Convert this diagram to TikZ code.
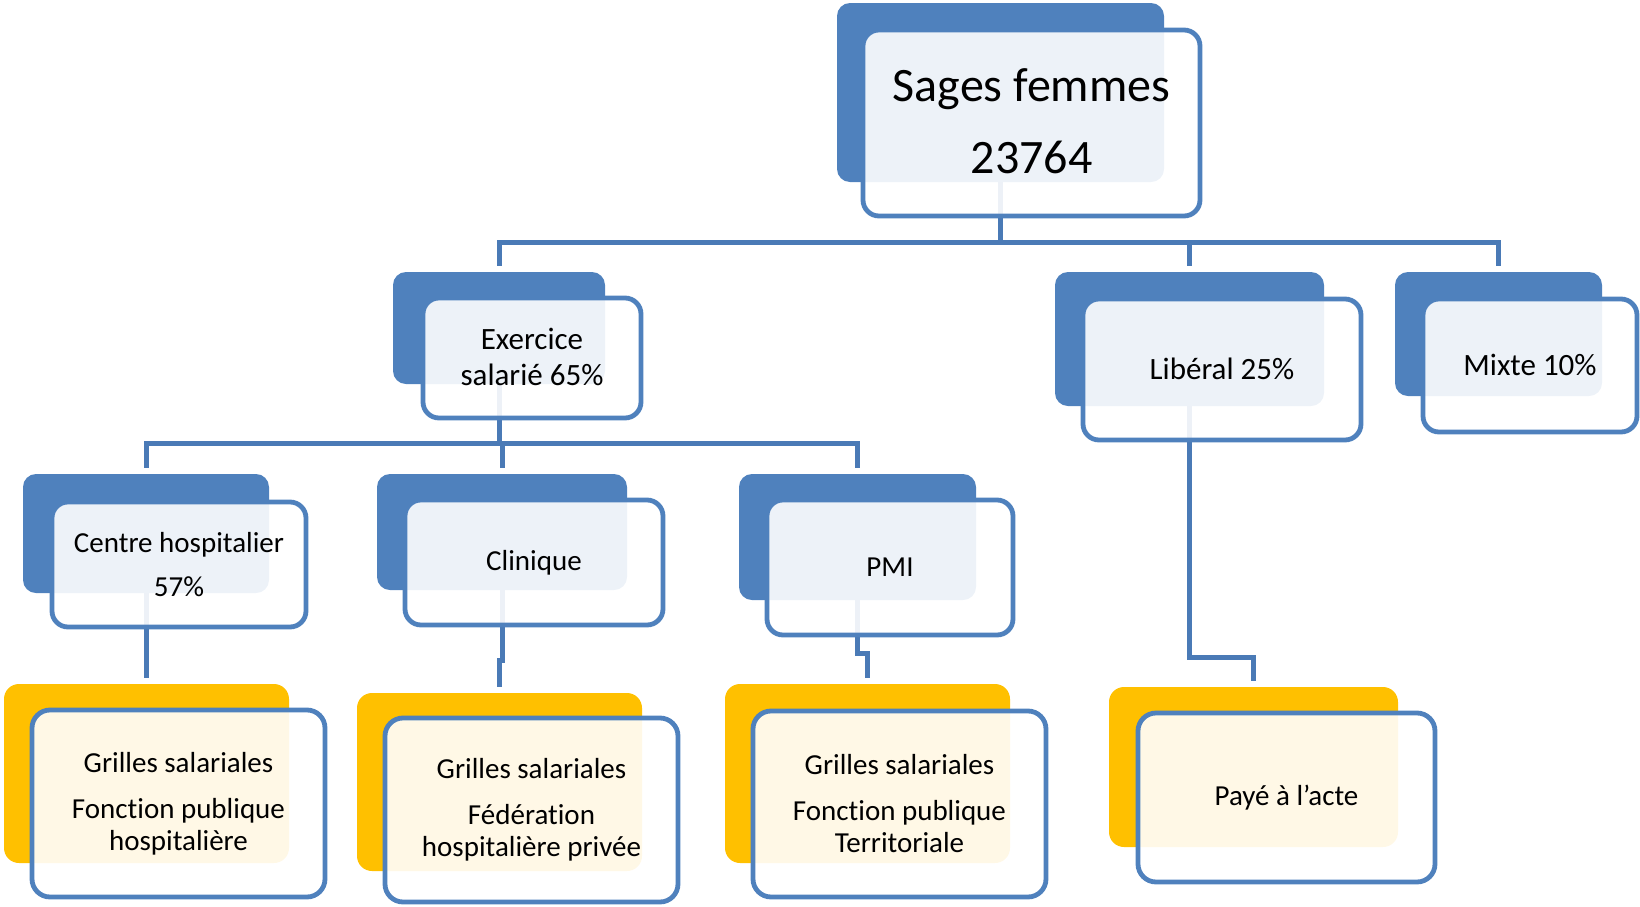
\documentclass[tikz,border=0pt]{standalone}
\usepackage{fontspec}
\setmainfont{Carlito}[Ligatures=NoCommon]
\usetikzlibrary{fit,calc}
\definecolor{accB}{HTML}{4F81BD}
\definecolor{accY}{HTML}{FFC000}
\definecolor{connC}{HTML}{4A7AB6}
\tikzset{
  backB/.style={fill=accB, draw=none, rounded corners=6.5pt, inner sep=0pt},
  backY/.style={fill=accY, draw=none, rounded corners=7.5pt, inner sep=0pt},
  front/.style={draw=accB, line width=2.4pt, fill=white, fill opacity=0.9, draw opacity=1, rounded corners=8pt, inner sep=0pt},
  frontY/.style={front, rounded corners=9pt},
  conn/.style={draw=connC, line width=2.5pt, shorten >=3pt},
  lbl/.style={text=black, align=center, inner sep=0pt},
  big/.style={lbl, yshift=1pt, font=\fontsize{24}{36}\selectfont},
  mid/.style={lbl, yshift=0.5pt, font=\fontsize{15.5}{18}\selectfont},
  sml/.style={lbl, font=\fontsize{14.5}{16}\selectfont}
}
\begin{document}
\begin{tikzpicture}[x=0.5pt, y=-0.5pt]
\useasboundingbox (0,0) rectangle (1640,906);
% back shapes
\node[backB, fit={(837,3) (1164,182)}] (sfB) {};
\node[backB, fit={(393,272) (605,384)}] (exB) {};
\node[backB, fit={(1055,272) (1324,406)}] (liB) {};
\node[backB, fit={(1395,272) (1602,396)}] (mxB) {};
\node[backB, fit={(23,474) (269,593)}] (chB) {};
\node[backB, fit={(377,474) (627,590)}] (clB) {};
\node[backB, fit={(739,474) (976,600)}] (pmB) {};
\node[backY, fit={(4,684) (289,863)}] (chY) {};
\node[backY, fit={(357,693) (642,871)}] (clY) {};
\node[backY, fit={(725,684) (1010,863)}] (pmY) {};
\node[backY, fit={(1109,687) (1398,847)}] (pyY) {};
% connectors
\coordinate (bus1) at (0,242);
\coordinate (bus2) at (0,443);
\draw[conn] (sfB.south) -- (sfB.south |- bus1) -| (exB.north);
\draw[conn] (sfB.south) -- (sfB.south |- bus1) -| (liB.north);
\draw[conn] (sfB.south) -- (sfB.south |- bus1) -| (mxB.north);
\draw[conn] (exB.south) -- (exB.south |- bus2) -| (chB.north);
\draw[conn] (exB.south) -- (exB.south |- bus2) -| (clB.north);
\draw[conn] (exB.south) -- (exB.south |- bus2) -| (pmB.north);
\draw[conn] (chB.south) -- (chB.south |- chY.north);
\draw[conn] (clB.south) -- ++(0,70) -| (clY.north);
\draw[conn] (pmB.south) -- ++(0,53) -| (pmY.north);
\draw[conn] (liB.south) -- ++(0,251) -| (pyY.north);
% front shapes
\node[front, fit={(863,30) (1200,216)}] (sfF) {};
\node[front, fit={(423,298) (641,418)}] (exF) {};
\node[front, fit={(1083,299) (1361,440)}] (liF) {};
\node[front, fit={(1423,299) (1637,432)}] (mxF) {};
\node[front, fit={(52,502) (306,627)}] (chF) {};
\node[front, fit={(405,500) (663,625)}] (clF) {};
\node[front, fit={(767,500) (1013,635)}] (pmF) {};
\node[frontY, fit={(32,710) (325,897)}] (chG) {};
\node[frontY, fit={(385,718) (678,902)}] (clG) {};
\node[frontY, fit={(753,711) (1046,897)}] (pmG) {};
\node[frontY, fit={(1138,713) (1435,882)}] (pyG) {};
% texts
\node[big] (sfT) at (sfF.center) {Sages femmes\\23764};
\node[mid] (exT) at (exF.center) {Exercice\\salarié 65\%};
\node[mid] (liT) at (liF.center) {Libéral 25\%};
\node[mid] (mxT) at (mxF.center) {Mixte 10\%};
\node[sml] (chT) at (chF.center) {Centre hospitalier\\[6pt]57\%};
\node[sml] (clT) at (clF.center) {Clinique};
\node[sml] (pmT) at (pmF.center) {PMI};
\node[sml] (chU) at (chG.center) {Grilles salariales\\[7pt]Fonction publique\\hospitalière};
\node[sml] (clU) at (clG.center) {Grilles salariales\\[7pt]Fédération\\hospitalière privée};
\node[sml] (pmU) at (pmG.center) {Grilles salariales\\[7pt]Fonction publique\\Territoriale};
\node[sml] (pyU) at (pyG.center) {Payé à l’acte};
\end{tikzpicture}
\end{document}
